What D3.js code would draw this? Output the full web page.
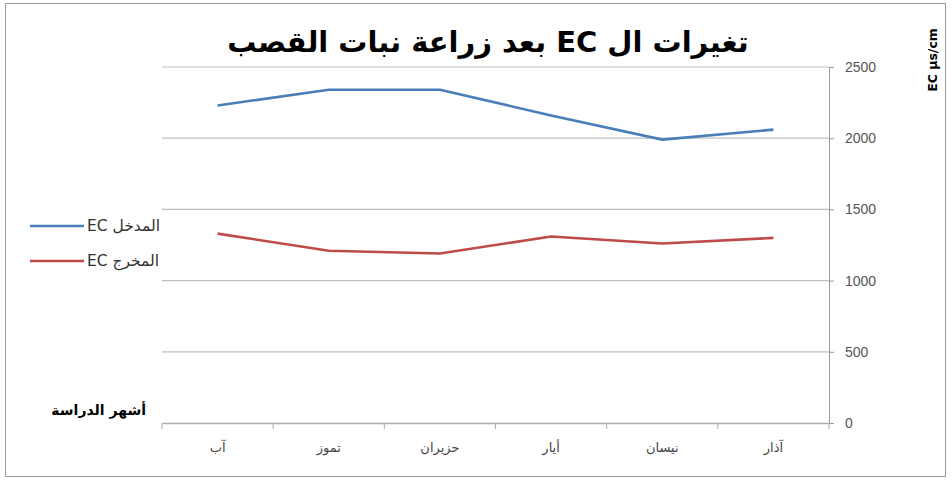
<!DOCTYPE html>
<html><head><meta charset="utf-8">
<script src="https://cdn.jsdelivr.net/npm/d3@7"></script>
<style>body{margin:0;background:#fff}svg{display:block}</style>
</head><body><svg id="c" width="952" height="481"></svg>
<script>
const categories = ["آب","تموز","حزيران","أيار","نيسان","آذار"];
const ecIn = [2230, 2340, 2340, 2160, 1990, 2060];
const ecOut = [1330, 1210, 1190, 1310, 1260, 1300];
const yTicks = [0, 500, 1000, 1500, 2000, 2500];
const seriesNames = ["المدخل EC", "المخرج EC"];
const colors = ["#4a7ebb", "#be4b48"];

const svg = d3.select("#c");
const font = "'DejaVu Sans', sans-serif";
svg.append("rect").attr("x",5.5).attr("y",3.5).attr("width",940).attr("height",473)
  .attr("fill","#fff").attr("stroke","#9a9a9a");

const x = d3.scaleBand().domain(categories).range([162, 829]);
const y = d3.scaleLinear().domain([0, 2500]).range([423, 67]);

// gridlines
svg.append("g").selectAll("line").data(yTicks.filter(d=>d>0)).join("line")
  .attr("x1",162).attr("x2",829).attr("y1",d=>y(d)).attr("y2",d=>y(d))
  .attr("stroke","#bfbfbf").attr("stroke-width",1.2);

// y axis right
const ya = svg.append("g").attr("transform","translate(829,0)")
  .call(d3.axisRight(y).tickValues(yTicks).tickSize(5).tickPadding(11).tickFormat(d3.format("d")));
ya.select(".domain").attr("stroke","#999");
ya.selectAll(".tick line").attr("stroke","#999");
ya.selectAll("text").attr("font-family","'Liberation Sans', Arial, sans-serif").attr("font-size",14).attr("fill","#555");

// x axis
const xa = svg.append("g").attr("transform","translate(0,423)")
  .call(d3.axisBottom(x).tickSize(0).tickPadding(20));
xa.select(".domain").attr("stroke","#aaa").attr("stroke-width",1.3);
xa.selectAll("text").attr("font-family",font).attr("font-size",13).attr("fill","#444");
xa.append("g").selectAll("line").data(d3.range(categories.length+1)).join("line")
  .attr("x1",i=>162+i*x.step()).attr("x2",i=>162+i*x.step()).attr("y1",0).attr("y2",6)
  .attr("stroke","#aaa");

// lines
const line = d3.line().x((d,i)=>x(categories[i])+x.bandwidth()/2).y(d=>y(d));
[ecIn, ecOut].forEach((s,k)=>{
  svg.append("path").datum(s).attr("d",line).attr("fill","none")
    .attr("stroke",colors[k]).attr("stroke-width",2.6).attr("stroke-linejoin","round");
});

// title
svg.append("text").attr("x",488).attr("y",52).attr("text-anchor","middle")
  .attr("direction","rtl").style("unicode-bidi","embed")
  .attr("font-family",font).attr("font-weight","bold").attr("font-size",29).attr("fill","#000")
  .text("تغيرات ال EC بعد زراعة نبات القصب");

// y axis title
svg.append("text").attr("transform","translate(937,60) rotate(-90)").attr("text-anchor","middle")
  .attr("font-family",font).attr("font-weight","bold").attr("font-size",12.5).attr("fill","#000")
  .text("EC µs/cm");

// legend
const lg = svg.append("g");
[0,1].forEach(k=>{
  const ly = 226 + k*35;
  lg.append("line").attr("x1",30).attr("x2",84).attr("y1",ly).attr("y2",ly)
    .attr("stroke",colors[k]).attr("stroke-width",2.6);
  lg.append("text").attr("x",87).attr("y",ly+5).attr("text-anchor","end")
    .attr("direction","rtl").style("unicode-bidi","embed")
    .attr("font-family",font).attr("font-size",15.5)
    .attr("fill","#333").text(seriesNames[k]);
});

// x axis title
svg.append("text").attr("x",146).attr("y",415).attr("text-anchor","start")
  .attr("direction","rtl").style("unicode-bidi","embed")
  .attr("font-family",font).attr("font-weight","bold").attr("font-size",14).attr("fill","#000")
  .text("أشهر الدراسة");
</script></body></html>
